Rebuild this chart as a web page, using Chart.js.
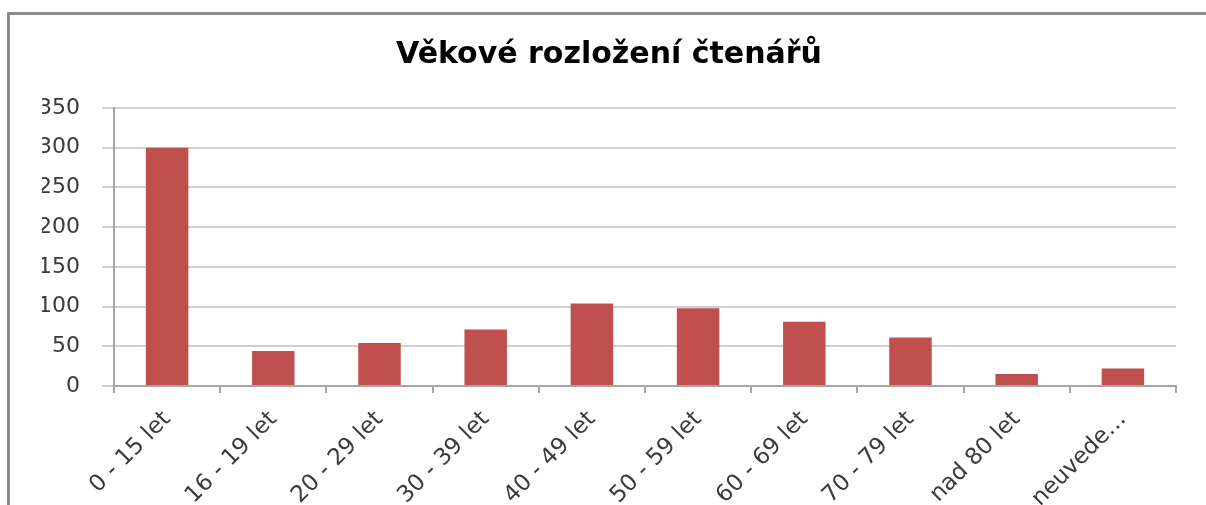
<!DOCTYPE html>
<html>
<head>
<meta charset="utf-8">
<script src="https://cdn.jsdelivr.net/npm/chart.js"></script>
<style>
	html, body { margin: 0; padding: 0; background: #fff; }
	#wrap { position: relative; width: 1206px; height: 505px; overflow: hidden; }
	#frame {
		position: absolute; left: 7px; top: 12px; width: 1300px; height: 600px;
		border-left: 3px solid #8c8c8c; border-top: 3px solid #8c8c8c;
	}
	#chart { position: absolute; left: 0; top: 0; }
</style>
</head>
<body>
<div id="wrap">
	<div id="frame"></div>
	<canvas id="chart" width="1206" height="505"></canvas>
</div>
<script>
// data
const titleText = 'Věkové rozložení čtenářů'
const categories = [
	'0 - 15 let',
	'16 - 19 let',
	'20 - 29 let',
	'30 - 39 let',
	'40 - 49 let',
	'50 - 59 let',
	'60 - 69 let',
	'70 - 79 let',
	'nad 80 let',
	'neuvede…',
]
const readers = [300, 44, 54, 71, 104, 98, 81, 61, 15, 22]
const yTicks = [0, 50, 100, 150, 200, 250, 300, 350]

const barColor = '#c0504d'
const axisColor = '#a6a6a6'
const gridColor = '#cfcfcf'
const textColor = '#3a3a3a'

const ctx = document.getElementById('chart').getContext('2d')

new Chart(ctx, {
	type: 'bar',
	data: {
		labels: categories,
		datasets: [
			{
				data: readers,
				backgroundColor: barColor,
				categoryPercentage: 1,
				barPercentage: 0.4,
			},
		],
	},
	options: {
		responsive: false,
		animation: false,
		// left padding keeps the title centred on the whole frame
		layout: { padding: { top: 15, right: 30, bottom: 0, left: 42 } },
		plugins: {
			legend: { display: false },
			tooltip: { enabled: false },
			title: {
				display: true,
				text: titleText,
				color: '#000',
				font: { family: 'DejaVu Sans', size: 30, weight: 'bold', lineHeight: 1.2 },
				padding: { top: 22, bottom: 35 },
			},
		},
		scales: {
			x: {
				grid: {
					offset: true,
					drawOnChartArea: false,
					drawTicks: true,
					tickLength: 7,
					color: axisColor,
					lineWidth: 2,
				},
				border: { display: true, color: axisColor, width: 2 },
				ticks: {
					color: textColor,
					font: { family: 'DejaVu Sans', size: 23 },
					minRotation: 45,
					maxRotation: 45,
					autoSkip: false,
					padding: 13,
				},
				afterFit: (scale) => { scale.height = 119 },
			},
			y: {
				min: 0,
				max: 350,
				afterBuildTicks: (scale) => {
					scale.ticks = yTicks.map((v) => ({ value: v }))
				},
				grid: {
					color: gridColor,
					lineWidth: 2,
					tickLength: 12,
				},
				border: { display: true, color: axisColor, width: 2 },
				ticks: {
					color: textColor,
					font: { family: 'DejaVu Sans', size: 22 },
					padding: 22,
				},
				afterFit: (scale) => { scale.width = 72 },
			},
		},
	},
})
</script>
</body>
</html>
